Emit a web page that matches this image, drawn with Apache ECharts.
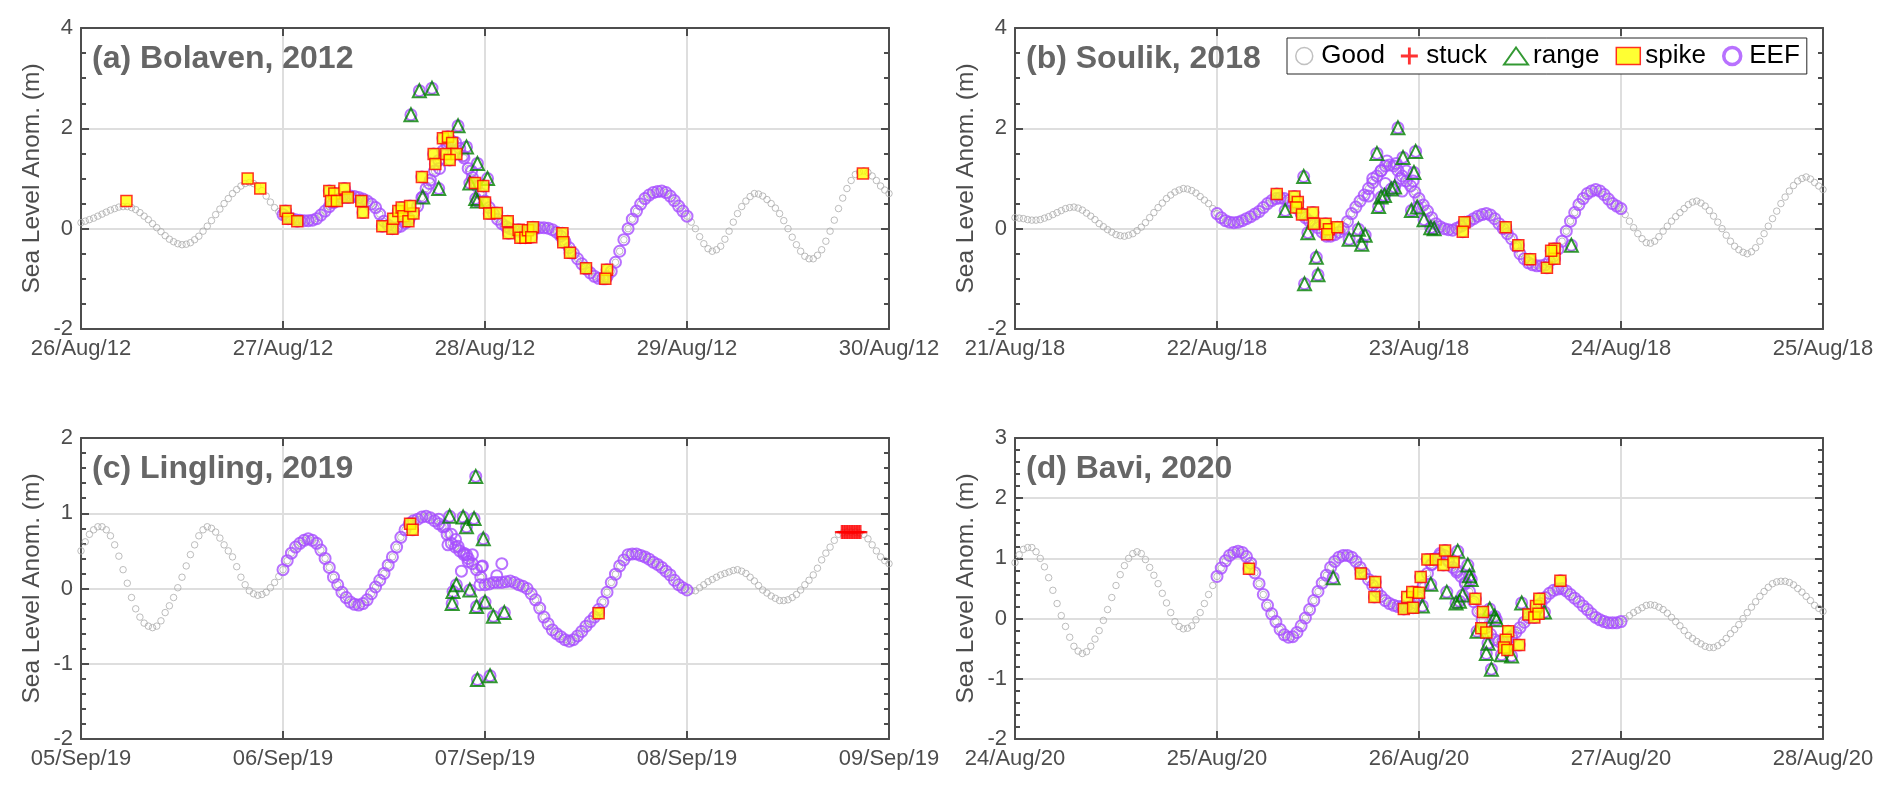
<!DOCTYPE html>
<html><head><meta charset="utf-8">
<script src="https://cdn.jsdelivr.net/npm/echarts@6/dist/echarts.min.js"></script>
<style>html,body{margin:0;padding:0;background:#fff}#c{width:1892px;height:791px}</style>
</head><body><div id="c"></div>
<script>
// ---------- DATA (x = hours since the first tick of each panel) ----------
const seriesNames = ['Good','stuck','range','spike','EEF'];
const yName = 'Sea Level Anom. (m)';
const stepHours = 0.5;   // sea-level readings every half hour

const titleA = '(a) Bolaven, 2012';
const ticksA = ['26/Aug/12','27/Aug/12','28/Aug/12','29/Aug/12','30/Aug/12'];
const seaA = [
 0.12,0.15,0.18,0.21,0.25,0.29,0.33,0.37,0.40,0.43,
 0.44,0.44,0.42,0.38,0.32,0.25,0.18,0.10,0.02,-0.06,
 -0.14,-0.21,-0.26,-0.30,-0.32,-0.31,-0.28,-0.22,-0.15,-0.05,
 0.05,0.16,0.28,0.39,0.50,0.60,0.70,0.78,0.85,0.90,
 0.92,0.90,0.85,0.76,0.65,0.53,0.42,0.34,0.28,0.23,
 0.20,0.18,0.17,0.16,0.16,0.17,0.20,0.27,0.35,0.44,
 0.52,0.58,0.62,0.64,0.65,0.64,0.62,0.59,0.55,0.49,
 0.42,0.29,0.15,0.07,0.02,0.02,0.05,0.11,0.20,0.31,
 0.45,0.62,0.80,0.97,1.15,1.36,1.55,1.68,1.75,1.72,
 1.60,1.41,1.20,1.02,0.85,0.70,0.55,0.42,0.30,0.19,
 0.10,0.04,0.00,-0.03,-0.05,-0.06,-0.05,-0.02,0.00,0.02,
 0.02,0.01,-0.02,-0.07,-0.15,-0.26,-0.38,-0.49,-0.60,-0.70,
 -0.80,-0.88,-0.95,-0.99,-1.00,-0.96,-0.85,-0.67,-0.45,-0.22,
 0.00,0.19,0.35,0.49,0.60,0.67,0.72,0.74,0.75,0.72,
 0.65,0.56,0.45,0.35,0.25,0.13,0.00,-0.16,-0.30,-0.40,
 -0.45,-0.42,-0.35,-0.21,-0.05,0.13,0.30,0.44,0.55,0.64,
 0.70,0.69,0.65,0.58,0.50,0.41,0.30,0.16,0.00,-0.17,
 -0.32,-0.45,-0.55,-0.60,-0.60,-0.53,-0.42,-0.25,-0.05,0.17,
 0.40,0.61,0.80,0.96,1.08,1.13,1.15,1.12,1.05,0.96,
 0.85,0.77,0.70];
const eefWindowA = [24, 72];
const eefExtraA = [[42.6,1.2],[45.4,1.45],[46.4,1.15],[41.4,0.9]];
const spikeA = [[5.4,0.55],[19.8,1.0],[21.3,0.8],[24.3,0.35],[24.6,0.2],[25.7,0.15],[29.5,0.75],[30.1,0.7],[29.7,0.55],[30.4,0.55],[31.3,0.8],[31.7,0.62],[33.3,0.55],[33.5,0.32],[35.8,0.05],[37.0,0.0],[37.1,0.2],[37.7,0.35],[38.1,0.42],[38.3,0.25],[38.9,0.15],[39.5,0.3],[39.1,0.45],[40.5,1.03],[41.9,1.49],[42.1,1.29],[43.0,1.8],[43.6,1.83],[44.1,1.71],[43.4,1.49],[44.6,1.49],[43.8,1.37],[46.8,0.91],[47.8,0.85],[48.0,0.52],[48.5,0.3],[49.4,0.31],[50.7,0.15],[50.8,-0.09],[52.0,-0.02],[52.2,-0.18],[52.8,-0.18],[53.1,-0.03],[53.7,0.03],[53.5,-0.17],[57.2,-0.09],[57.3,-0.27],[58.1,-0.48],[60.0,-0.79],[62.5,-0.82],[62.3,-1.0],[92.9,1.1]];
const rangeA = [[39.2,2.27],[40.2,2.75],[41.7,2.8],[44.8,2.05],[45.8,1.63],[47.1,1.3],[48.3,1.0],[46.2,0.91],[42.5,0.8],[40.6,0.63],[46.9,0.6],[47.1,0.55]];
const stuckA = [];

const titleB = '(b) Soulik, 2018';
const ticksB = ['21/Aug/18','22/Aug/18','23/Aug/18','24/Aug/18','25/Aug/18'];
const seaB = [
 0.22,0.21,0.20,0.18,0.17,0.17,0.18,0.21,0.24,0.28,
 0.32,0.36,0.40,0.42,0.43,0.41,0.37,0.31,0.25,0.18,
 0.10,0.04,-0.02,-0.07,-0.12,-0.14,-0.15,-0.13,-0.10,-0.04,
 0.03,0.12,0.22,0.32,0.42,0.51,0.60,0.67,0.73,0.77,
 0.80,0.79,0.76,0.71,0.64,0.57,0.50,0.40,0.30,0.22,
 0.16,0.13,0.12,0.13,0.16,0.20,0.24,0.29,0.34,0.42,
 0.50,0.56,0.60,0.61,0.60,0.56,0.50,0.41,0.30,0.22,
 0.15,0.08,0.02,-0.07,-0.15,-0.15,-0.12,-0.07,0.00,0.14,
 0.30,0.43,0.55,0.67,0.80,0.92,1.05,1.16,1.25,1.27,
 1.25,1.16,1.05,0.95,0.85,0.73,0.60,0.47,0.35,0.22,
 0.10,0.04,0.00,-0.02,-0.03,0.01,0.05,0.10,0.15,0.20,
 0.25,0.28,0.30,0.27,0.20,0.10,0.00,-0.10,-0.20,-0.35,
 -0.50,-0.60,-0.68,-0.72,-0.74,-0.74,-0.72,-0.65,-0.55,-0.41,
 -0.25,-0.05,0.15,0.32,0.48,0.60,0.70,0.75,0.78,0.75,
 0.68,0.59,0.50,0.45,0.40,0.28,0.15,0.02,-0.10,-0.20,
 -0.28,-0.29,-0.25,-0.16,-0.05,0.05,0.15,0.24,0.32,0.40,
 0.48,0.53,0.55,0.51,0.45,0.36,0.25,0.13,0.00,-0.13,
 -0.25,-0.35,-0.42,-0.47,-0.50,-0.46,-0.38,-0.25,-0.10,0.05,
 0.20,0.35,0.50,0.63,0.75,0.86,0.95,1.00,1.03,0.99,
 0.92,0.85,0.78];
const eefWindowB = [24, 72];
const eefExtraB = [[42.5,1.0],[43.5,1.15],[44.2,1.35],[45.3,1.3],[46.5,1.15],[47.3,0.95],[42.0,0.65],[44.0,0.9],[46.0,0.75],[45.8,1.0]];
const spikeB = [[31.1,0.69],[33.2,0.64],[33.6,0.53],[33.4,0.42],[34.1,0.28],[35.4,0.32],[35.5,0.1],[36.9,0.1],[37.3,-0.01],[37.1,-0.11],[38.3,0.03],[53.4,0.13],[53.2,-0.06],[58.3,0.03],[59.8,-0.33],[61.2,-0.61],[63.2,-0.78],[64.1,-0.4],[64.1,-0.6],[63.7,-0.44]];
const rangeB = [[34.3,1.04],[32.1,0.36],[34.8,-0.08],[35.8,-0.57],[36.0,-0.92],[34.4,-1.1],[39.7,-0.21],[40.8,-0.01],[41.2,-0.31],[41.6,-0.13],[43.0,1.5],[43.2,0.44],[43.5,0.63],[43.9,0.66],[44.7,0.79],[45.1,0.83],[45.5,2.01],[46.1,1.42],[47.6,1.54],[47.4,1.12],[47.1,0.36],[47.8,0.43],[48.6,0.18],[49.4,0.02],[49.8,0.0],[66.1,-0.33]];
const stuckB = [];

const titleC = '(c) Lingling, 2019';
const ticksC = ['05/Sep/19','06/Sep/19','07/Sep/19','08/Sep/19','09/Sep/19'];
const seaC = [
 0.50,0.62,0.72,0.78,0.82,0.82,0.78,0.70,0.58,0.43,
 0.25,0.07,-0.12,-0.27,-0.38,-0.46,-0.50,-0.52,-0.50,-0.43,
 -0.32,-0.23,-0.12,0.01,0.15,0.30,0.45,0.58,0.70,0.78,
 0.82,0.80,0.75,0.67,0.58,0.50,0.42,0.29,0.15,0.05,
 -0.03,-0.07,-0.09,-0.08,-0.05,0.01,0.08,0.16,0.25,0.37,
 0.47,0.55,0.60,0.64,0.66,0.64,0.60,0.51,0.40,0.28,
 0.15,0.05,-0.05,-0.12,-0.18,-0.21,-0.22,-0.20,-0.15,-0.07,
 0.02,0.11,0.20,0.31,0.42,0.55,0.68,0.78,0.86,0.90,
 0.92,0.95,0.96,0.94,0.90,0.86,0.82,0.72,0.60,0.55,
 0.50,0.45,0.40,0.33,0.25,0.15,0.05,0.06,0.08,0.08,
 0.08,0.09,0.10,0.08,0.05,0.03,0.00,-0.07,-0.15,-0.26,
 -0.38,-0.47,-0.55,-0.60,-0.64,-0.68,-0.70,-0.68,-0.63,-0.57,
 -0.50,-0.44,-0.38,-0.28,-0.18,-0.05,0.08,0.19,0.30,0.38,
 0.45,0.46,0.46,0.44,0.42,0.39,0.35,0.32,0.28,0.23,
 0.18,0.11,0.05,0.01,-0.02,-0.03,-0.03,0.01,0.05,0.09,
 0.12,0.15,0.18,0.20,0.22,0.24,0.25,0.23,0.20,0.15,
 0.10,0.04,-0.02,-0.06,-0.10,-0.13,-0.16,-0.16,-0.15,-0.12,
 -0.08,-0.02,0.05,0.11,0.18,0.27,0.38,0.47,0.55,0.64,
 0.72,0.74,0.75,0.75,0.75,0.74,0.72,0.66,0.58,0.50,
 0.42,0.37,0.33];
const eefWindowC = [24, 72];
const eefExtraC = [[42.5,0.92],[43.2,0.83],[43.6,0.58],[44.0,0.72],[44.8,0.56],[45.2,0.23],[45.5,0.47],[45.8,0.45],[46.5,0.45],[47.4,0.05],[47.6,0.29],[47.7,0.3],[49.4,0.17],[50.0,0.33],[44.5,0.65],[46.0,0.36]];
const spikeC = [[39.1,0.86],[39.4,0.78],[61.5,-0.33]];
const rangeC = [[46.9,1.49],[43.8,0.96],[45.4,0.95],[46.7,0.93],[45.8,0.82],[47.8,0.66],[44.6,0.05],[44.2,-0.04],[44.1,-0.2],[46.2,-0.02],[47.0,-0.24],[48.0,-0.18],[49.0,-0.37],[50.3,-0.32],[47.1,-1.21],[48.6,-1.16]];
const stuckC = [[90.4,0.75],[90.6,0.75],[90.8,0.75],[91.0,0.75],[91.2,0.75],[91.4,0.75],[91.6,0.75],[91.8,0.75],[92.0,0.75],[92.2,0.75],[92.4,0.75],[92.6,0.75]];

const titleD = '(d) Bavi, 2020';
const ticksD = ['24/Aug/20','25/Aug/20','26/Aug/20','27/Aug/20','28/Aug/20'];
const seaD = [
 0.93,1.06,1.15,1.18,1.18,1.11,1.00,0.86,0.68,0.47,
 0.25,0.05,-0.13,-0.31,-0.46,-0.54,-0.58,-0.55,-0.46,-0.34,
 -0.20,-0.03,0.15,0.35,0.55,0.73,0.88,1.00,1.08,1.11,
 1.08,0.98,0.85,0.72,0.58,0.42,0.26,0.10,-0.05,-0.13,
 -0.17,-0.16,-0.12,-0.02,0.10,0.25,0.40,0.55,0.70,0.84,
 0.96,1.05,1.10,1.12,1.10,1.03,0.92,0.76,0.58,0.40,
 0.22,0.08,-0.05,-0.18,-0.27,-0.31,-0.30,-0.23,-0.12,0.01,
 0.15,0.30,0.45,0.59,0.72,0.85,0.95,1.02,1.05,1.05,
 1.02,0.95,0.85,0.75,0.65,0.55,0.45,0.37,0.30,0.25,
 0.22,0.20,0.20,0.19,0.20,0.26,0.35,0.55,0.75,0.90,
 1.00,1.05,1.05,0.97,0.85,0.77,0.70,0.58,0.45,0.28,
 0.12,-0.02,-0.15,-0.26,-0.35,-0.38,-0.38,-0.35,-0.30,-0.23,
 -0.15,-0.06,0.02,0.08,0.15,0.25,0.35,0.42,0.47,0.49,
 0.50,0.46,0.40,0.34,0.28,0.21,0.15,0.08,0.02,-0.02,
 -0.05,-0.07,-0.07,-0.07,-0.05,0.00,0.05,0.10,0.14,0.18,
 0.22,0.23,0.22,0.19,0.15,0.09,0.02,-0.05,-0.12,-0.20,
 -0.28,-0.33,-0.38,-0.42,-0.46,-0.48,-0.48,-0.45,-0.40,-0.33,
 -0.25,-0.18,-0.10,0.00,0.10,0.19,0.28,0.37,0.45,0.52,
 0.58,0.61,0.62,0.62,0.60,0.56,0.50,0.44,0.37,0.30,
 0.22,0.17,0.12];
const eefWindowD = [24, 72];
const eefExtraD = [[49.5,0.9],[50.5,1.08],[51.5,0.95],[52.5,0.8],[53.5,0.6]];
const spikeD = [[27.8,0.83],[41.1,0.75],[42.8,0.61],[42.7,0.36],[46.2,0.16],[46.6,0.36],[47.2,0.44],[47.3,0.18],[48.0,0.43],[48.2,0.69],[49.0,0.98],[50.0,0.98],[51.1,1.13],[50.9,0.89],[52.1,0.94],[54.7,0.33],[55.6,0.11],[55.4,-0.16],[56.0,-0.23],[58.6,-0.21],[58.3,-0.35],[58.1,-0.48],[58.5,-0.52],[59.9,-0.44],[61.0,0.07],[61.7,0.02],[61.9,0.21],[62.3,0.33],[62.2,0.08],[64.8,0.63]];
const rangeD = [[37.8,0.68],[52.6,1.12],[53.8,0.89],[54.0,0.71],[54.2,0.65],[49.4,0.57],[48.4,0.21],[51.3,0.44],[52.8,0.29],[52.4,0.26],[53.2,0.39],[56.4,0.16],[57.0,0.04],[57.2,-0.02],[54.9,-0.21],[56.2,-0.41],[56.0,-0.58],[56.6,-0.84],[57.8,-0.6],[59.0,-0.62],[60.2,0.26],[62.9,0.11]];
const stuckD = [];

// ---------- CHART ----------
const FONT = '"Liberation Sans", Arial, Helvetica, sans-serif';
const AX = '#4d4d4d';
const GRIDC = '#dedede';
const GRAY = '#adadad';
const PURPLE = '#a64dff';
const GREEN = '#007f00';
const PLUS = 'path://M0,5H5V0H7V5H12V7H7V12H5V7H0Z';

const panels = [
  {title:titleA, ticks:ticksA, sea:seaA, eef:eefWindowA, extra:eefExtraA, spike:spikeA, range:rangeA, stuck:stuckA, ymin:-2, ymax:4, yint:2, minor:4, left:81, top:28},
  {title:titleB, ticks:ticksB, sea:seaB, eef:eefWindowB, extra:eefExtraB, spike:spikeB, range:rangeB, stuck:stuckB, ymin:-2, ymax:4, yint:2, minor:4, left:1015, top:28},
  {title:titleC, ticks:ticksC, sea:seaC, eef:eefWindowC, extra:eefExtraC, spike:spikeC, range:rangeC, stuck:stuckC, ymin:-2, ymax:2, yint:1, minor:5, left:81, top:438},
  {title:titleD, ticks:ticksD, sea:seaD, eef:eefWindowD, extra:eefExtraD, spike:spikeD, range:rangeD, stuck:stuckD, ymin:-2, ymax:3, yint:1, minor:5, left:1015, top:438}
];

const grid=[], xAxis=[], yAxis=[], series=[], title=[];
const line = {color:AX, width:2};
panels.forEach((p,i)=>{
  grid.push({left:p.left, top:p.top, width:808, height:301, show:false});
  title.push({text:p.title, left:p.left+11, top:p.top+15, padding:0,
    textStyle:{fontSize:32, fontWeight:'bold', color:'#666666', fontFamily:FONT}});
  const xBase = {type:'value', gridIndex:i, min:0, max:96, interval:24};
  xAxis.push(Object.assign({}, xBase, {position:'bottom',
    axisLine:{onZero:false, lineStyle:line},
    axisTick:{inside:true, length:8, lineStyle:line},
    axisLabel:{margin:9, fontSize:22, color:AX, fontFamily:FONT, showMinLabel:true, showMaxLabel:true,
      formatter:v=>p.ticks[Math.round(v/24)]},
    splitLine:{show:true, lineStyle:{color:GRIDC, width:2}}}));
  xAxis.push(Object.assign({}, xBase, {position:'top',
    axisLine:{onZero:false, lineStyle:line},
    axisTick:{inside:true, length:8, lineStyle:line},
    axisLabel:{show:false}, splitLine:{show:false}}));
  const yBase = {type:'value', gridIndex:i, min:p.ymin, max:p.ymax, interval:p.yint,
    axisLine:{show:true, onZero:false, lineStyle:line},
    axisTick:{show:true, inside:true, length:8, lineStyle:line},
    minorTick:{show:true, splitNumber:p.minor, length:5, lineStyle:line}};
  yAxis.push(Object.assign({}, yBase, {position:'left',
    axisLabel:{margin:8, fontSize:22, color:AX, fontFamily:FONT, showMinLabel:true, showMaxLabel:true},
    splitLine:{show:true, lineStyle:{color:GRIDC, width:2}},
    name:yName, nameLocation:'middle', nameGap:36,
    nameTextStyle:{fontSize:24.5, color:AX, fontFamily:FONT}}));
  yAxis.push(Object.assign({}, yBase, {position:'right', axisLabel:{show:false}, splitLine:{show:false}}));

  const xi = 2*i, yi = 2*i;
  const pts = p.sea.map((v,k)=>[k*stepHours, v]);
  const inWin = d => d[0]>=p.eef[0] && d[0]<=p.eef[1];
  const eefPts = pts.filter(inWin).concat(p.extra, p.spike.filter(inWin), p.range.filter(inWin));
  series.push({name:'Good', type:'scatter', xAxisIndex:xi, yAxisIndex:yi, data:pts, symbol:'circle', symbolSize:6.5,
    itemStyle:{color:'rgba(0,0,0,0)', borderColor:GRAY, borderWidth:1}, z:2, silent:true});
  series.push({name:'EEF', type:'scatter', xAxisIndex:xi, yAxisIndex:yi, data:eefPts, symbol:'circle', symbolSize:11,
    itemStyle:{color:'rgba(0,0,0,0)', borderColor:PURPLE, borderWidth:2}, z:3, silent:true});
  series.push({name:'range', type:'scatter', xAxisIndex:xi, yAxisIndex:yi, data:p.range, symbol:'triangle', symbolSize:13,
    itemStyle:{color:'rgba(0,0,0,0)', borderColor:GREEN, borderWidth:2}, z:4, silent:true});
  series.push({name:'spike', type:'scatter', xAxisIndex:xi, yAxisIndex:yi, data:p.spike, symbol:'rect', symbolSize:11,
    itemStyle:{color:'#ffff00', borderColor:'#ff0000', borderWidth:1.5}, z:5, silent:true});
  series.push({name:'stuck', type:'scatter', xAxisIndex:xi, yAxisIndex:yi, data:p.stuck, symbol:PLUS, symbolSize:14,
    itemStyle:{color:'#ff0000'}, z:6, silent:true});
});

const legendStyles = {
  Good:{icon:'circle', itemStyle:{color:'rgba(0,0,0,0)', borderColor:'#b0b0b0', borderWidth:1.5}},
  stuck:{icon:PLUS, itemStyle:{color:'#ff0000', borderWidth:0}},
  range:{icon:'triangle', itemStyle:{color:'rgba(0,0,0,0)', borderColor:GREEN, borderWidth:2}},
  spike:{icon:'rect', itemStyle:{color:'#ffff00', borderColor:'#ff0000', borderWidth:1.5}},
  EEF:{icon:'circle', itemStyle:{color:'rgba(0,0,0,0)', borderColor:PURPLE, borderWidth:3.5}}
};

const option = {
  animation:false,
  backgroundColor:'#ffffff',
  title, grid, xAxis, yAxis, series,
  legend:{
    left:1287, top:38, orient:'horizontal',
    padding:[5,7,5,8], itemGap:16, itemWidth:24, itemHeight:17,
    borderColor:'#262626', borderWidth:1, backgroundColor:'#ffffff',
    textStyle:{fontSize:26, color:'#000', fontFamily:FONT},
    selectedMode:false,
    data: seriesNames.map(n=>Object.assign({name:n}, legendStyles[n]))
  }
};
const chart = echarts.init(document.getElementById('c'), null, {renderer:'canvas'});
chart.setOption(option);
</script></body></html>
